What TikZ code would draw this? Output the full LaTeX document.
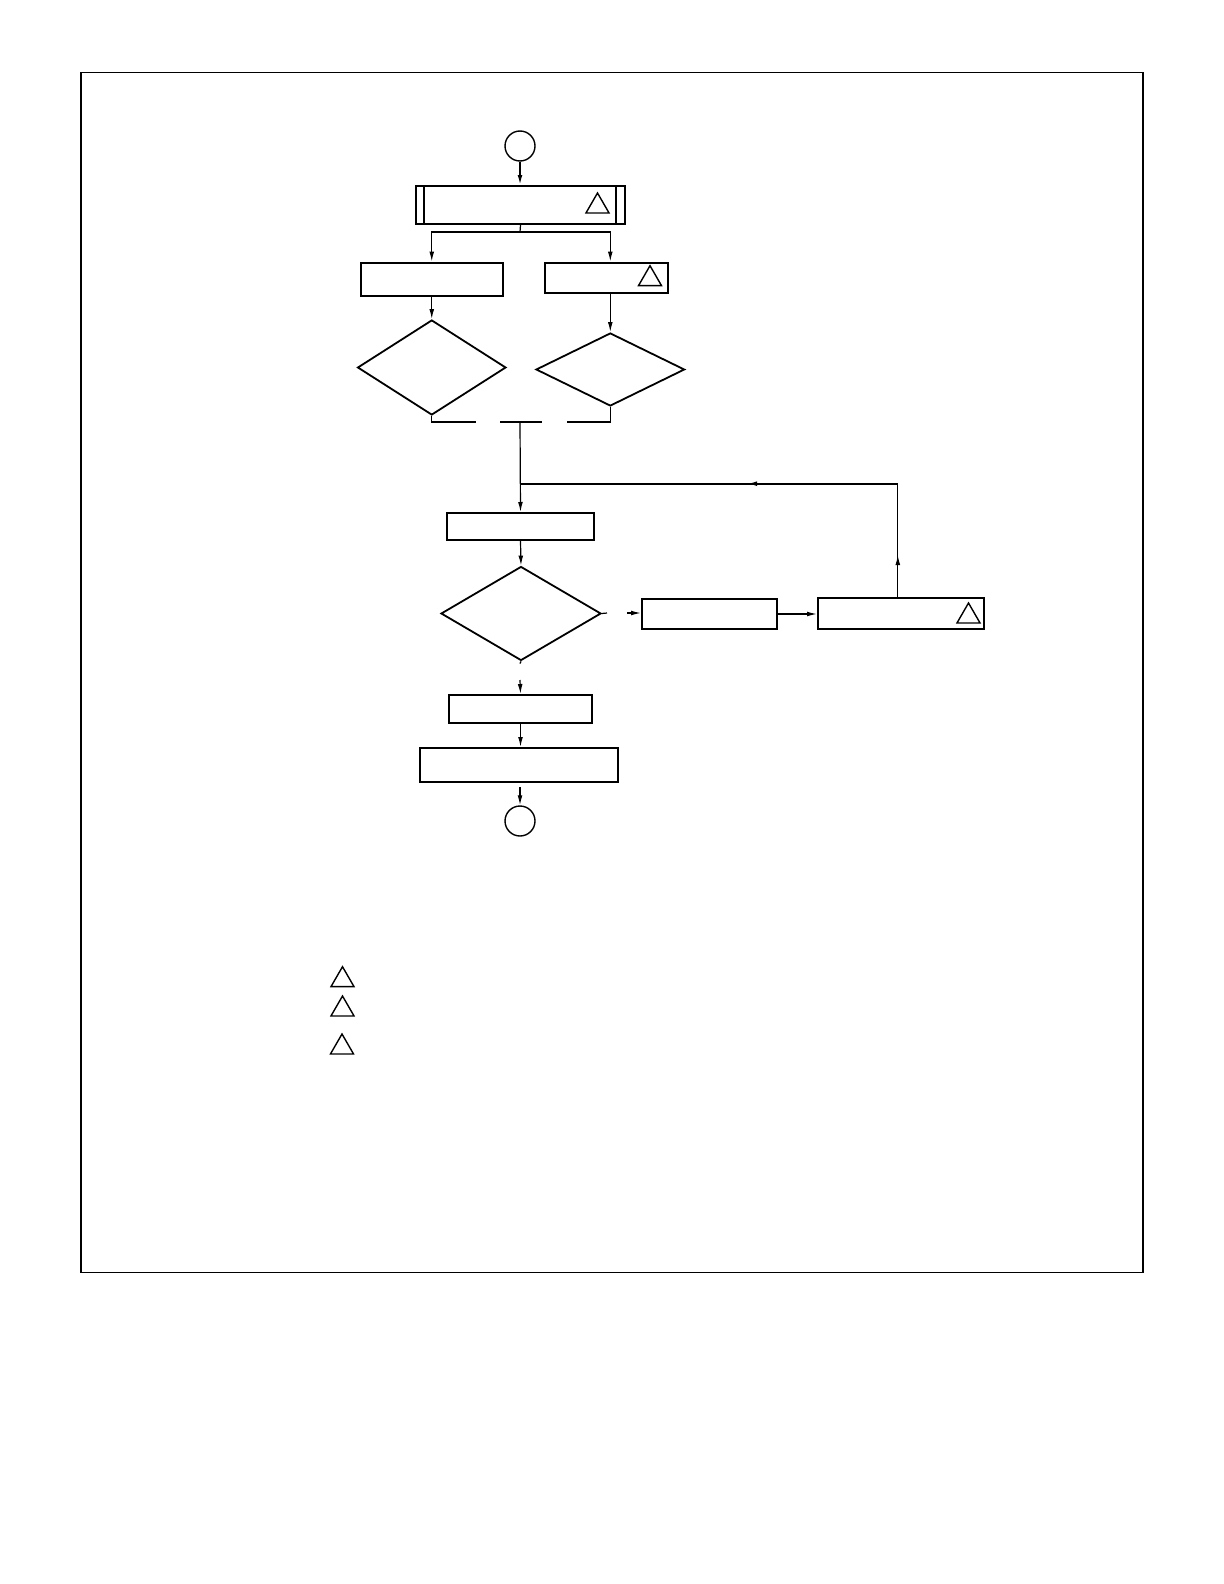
\documentclass[tikz,border=0pt]{standalone}
\usetikzlibrary{positioning, arrows.meta, shapes.geometric, calc}

\begin{document}
\begin{tikzpicture}[x=0.5pt, y=-0.5pt,
      box/.style={rectangle, draw, line width=1pt, inner sep=0pt},
      dec/.style={diamond, draw, line width=0.9pt, inner sep=0pt},
      term/.style={circle, draw, line width=0.7pt, inner sep=0pt, minimum size=15pt},
      flag/.style={regular polygon, regular polygon sides=3, draw, line width=0.7pt, inner sep=0pt, minimum size=13.3pt},
      line/.style={-, line width=0.6pt},
      arr/.style={-{Latex[length=5pt, width=2.4pt]}, line width=0.6pt}]

      \useasboundingbox (0,0) rectangle (1224,1584);
      \draw[line width=0.75pt] (80.8,72.7) rectangle (1143.2,1272.5);

      % Haut du diagramme
      \node[term] (begin) at (520,146) {};
      \node[box, minimum width=104.5pt, minimum height=19pt] (top) at (520.5,205) {};
      \draw[line width=0.6pt] ([xshift=4.5pt]top.north west) -- ([xshift=4.5pt]top.south west);
      \draw[line width=0.6pt] ([xshift=-5pt]top.north east) -- ([xshift=-5pt]top.south east);
      \node[flag] (f1) at (597.5,206.3) {};
      \draw[arr, line width=0.8pt] (begin.south) -- (begin.south |- top.north);

      % Deux branches
      \node[box, minimum width=71.2pt, minimum height=16.7pt] (lbox) at (431.75,279.3) {};
      \node[box, minimum width=61.7pt, minimum height=15.2pt] (rbox) at (606.75,277.8) {};
      \node[flag] (f2) at (650,279) {};
      \node[dec, minimum width=74.2pt, minimum height=47.5pt] (ldec) at (431.75,367.5) {};
      \node[dec, minimum width=74.3pt, minimum height=36.5pt] (rdec) at (610.3,369.5) {};

      \coordinate (split) at (520,232);
      \coordinate (join) at (520,422);
      \coordinate (g1) at (475.6,422);
      \coordinate (g2) at (500.4,422);
      \coordinate (g3) at (542.2,422);
      \coordinate (g4) at (567.4,422);

      \draw[line] (top.south) -- (split);
      \draw[arr] (split) -| (lbox.north);
      \draw[arr] (split) -| (rdec.north |- rbox.north);
      \draw[arr] (lbox.south) -- (ldec.north);
      \draw[arr] (rdec.north |- rbox.south) -- (rdec.north);
      \draw[line] (ldec.south) |- (g1);
      \draw[line] (g2) -- (g3);
      \draw[line] (g4) -| (rdec.south);

      % Boucle
      \node[box, minimum width=73.5pt, minimum height=13.5pt] (b3) at (520.5,526.5) {};
      \node[dec, minimum width=80pt, minimum height=47pt] (test) at (521,613.5) {};
      \node[box, minimum width=67.3pt, minimum height=15pt] (b4) at (709.3,614) {};
      \node[box, minimum width=82.8pt, minimum height=15.5pt] (b5) at (900.8,613.5) {};
      \node[flag] (f3) at (968.5,616.3) {};

      \coordinate (up) at (897.8,555);
      \coordinate (corner) at (897.8,483.7);
      \coordinate (back) at (747,483.7);
      \coordinate (merge) at (520,483.7);
      \coordinate (t1) at (607,613);
      \coordinate (t2) at (627.4,613);

      \draw[arr] (join) -- (b3.north);
      \draw[arr] (b3.south) -- (test.north);
      \draw[line] (test.east) -- (t1);
      \draw[arr] (t2) -- (t2 -| b4.west);
      \draw[arr] (b4.east) -- (b4.east -| b5.west);
      \draw[line] (b5.north -| up) -- (corner);
      \draw[arr] (b5.north -| up) -- (up);
      \draw[line, line width=0.8pt] (corner) -- (merge);
      \draw[arr, line width=0.8pt] (corner) -- (back);

      % Bas du diagramme
      \node[box, minimum width=71.5pt, minimum height=14pt] (b6) at (520.5,709) {};
      \node[box, minimum width=99pt, minimum height=17pt] (b7) at (519,765) {};
      \node[term] (stop) at (520,821) {};

      \coordinate (d1) at (520,663.5);
      \coordinate (d2) at (520,680);
      \draw[line] (test.south) -- (d1);
      \draw[arr] (d2) -- (b6.north);
      \draw[arr] (b6.south) -- (b6.south |- b7.north);
      \draw[arr] ([yshift=-2pt]b7.south -| stop) -- (stop.north);

      % Legende
      \node[flag] (n1) at (342.5,980) {};
      \node[flag] (n2) at (342.5,1009.3) {};
      \node[flag] (n3) at (342,1047.3) {};
\end{tikzpicture}
\end{document}
